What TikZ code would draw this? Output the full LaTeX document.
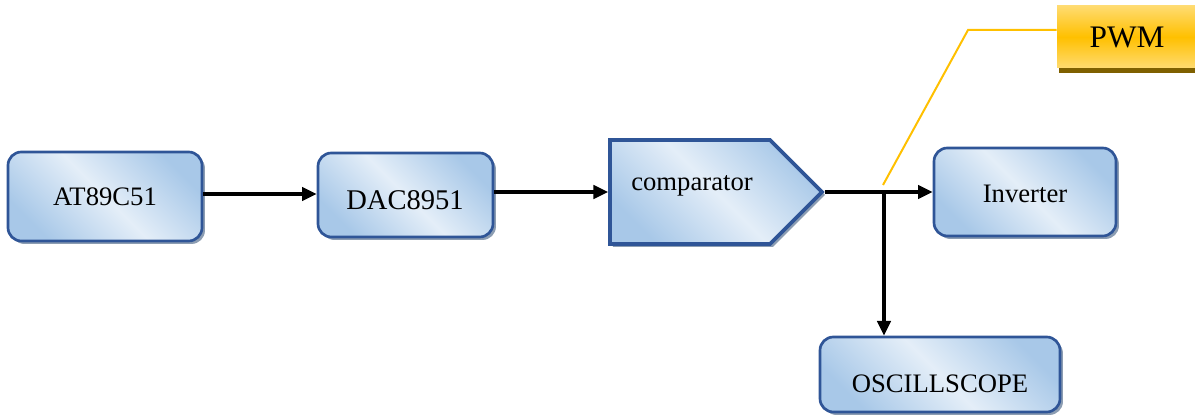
\documentclass[tikz,border=0pt]{standalone}
\usepackage{fontspec}
\setmainfont{Liberation Serif}
\usetikzlibrary{shapes.symbols,shadows,arrows.meta}
\definecolor{bord}{HTML}{2F5597}
\definecolor{boxA}{HTML}{A8C8E8}
\definecolor{boxB}{HTML}{E4EEF8}
\definecolor{shad}{HTML}{8C9DB2}
\definecolor{gold}{HTML}{FFC000}
\definecolor{goldL}{HTML}{FFDB70}
\definecolor{goldS}{HTML}{7F6000}
\tikzset{
  blk/.style={draw=bord, line width=2pt, rounded corners=10pt, inner sep=0pt,
    left color=boxA, right color=boxA, middle color=boxB, shading angle=135,
    drop shadow={shadow xshift=2.2pt, shadow yshift=-2.2pt, fill=shad, opacity=1}},
  txt/.style={font=\fontsize{20}{24}\selectfont, inner sep=0pt},
  arr/.style={line width=2.6pt, -{Triangle[length=11pt,width=10pt]}},
}
\begin{document}
\begin{tikzpicture}[x=0.75pt,y=-0.75pt]
\useasboundingbox (0,0) rectangle (1195,416);
% boxes
\node[blk, minimum width=145.5pt, minimum height=66.75pt] (at) at (105,196.5) {};
\node[txt] (att) at (105,197) {AT89C51};
\node[blk, minimum width=131.25pt, minimum height=63pt] (dac) at (405.5,195) {};
\node[txt, font=\fontsize{21.4}{25}\selectfont] (dact) at (405,200) {DAC8951};
\node[blk, line width=2.8pt, rounded corners=0pt, signal, signal to=east, signal pointer angle=90,
  minimum width=159pt, minimum height=78pt] (comp) at (690,192) {};
\node[txt] (compt) at (692,186) {comparator};
\node[blk, minimum width=136.5pt, minimum height=66pt] (inv) at (1025,192) {};
\node[txt] (invt) at (1025,194) {Inverter};
\node[blk, minimum width=180pt, minimum height=56.25pt] (osc) at (940,374.5) {};
\node[txt] (osct) at (940,384) {OSCILLSCOPE};
% PWM callout
\node[inner sep=0pt, minimum width=103.5pt, minimum height=46.5pt,
  top color=goldL, bottom color=goldL, middle color=gold,
  drop shadow={shadow xshift=1.5pt, shadow yshift=-3.5pt, fill=goldS, opacity=1}]
  (pwm) at (1126,37) {};
\node[txt, font=\fontsize{23.5}{28}\selectfont] (pwmt) at (1127,37) {PWM};
% connectors
\draw[arr] (at.east |- 0,194) -- (dac.west |- 0,194);
\draw[arr] (dac.east |- 0,192) -- (comp.west |- 0,192);
\draw[arr] (comp.east) -- (inv.west |- comp.east);
\coordinate (j) at (884,192);
\draw[arr] (j) -- (j |- osc.north);
\coordinate (c1) at (883,185);
\coordinate (c2) at (968,30);
\draw[gold, line width=1.5pt] (c1) -- (c2) -- (c2 -| pwm.west);
\end{tikzpicture}
\end{document}
